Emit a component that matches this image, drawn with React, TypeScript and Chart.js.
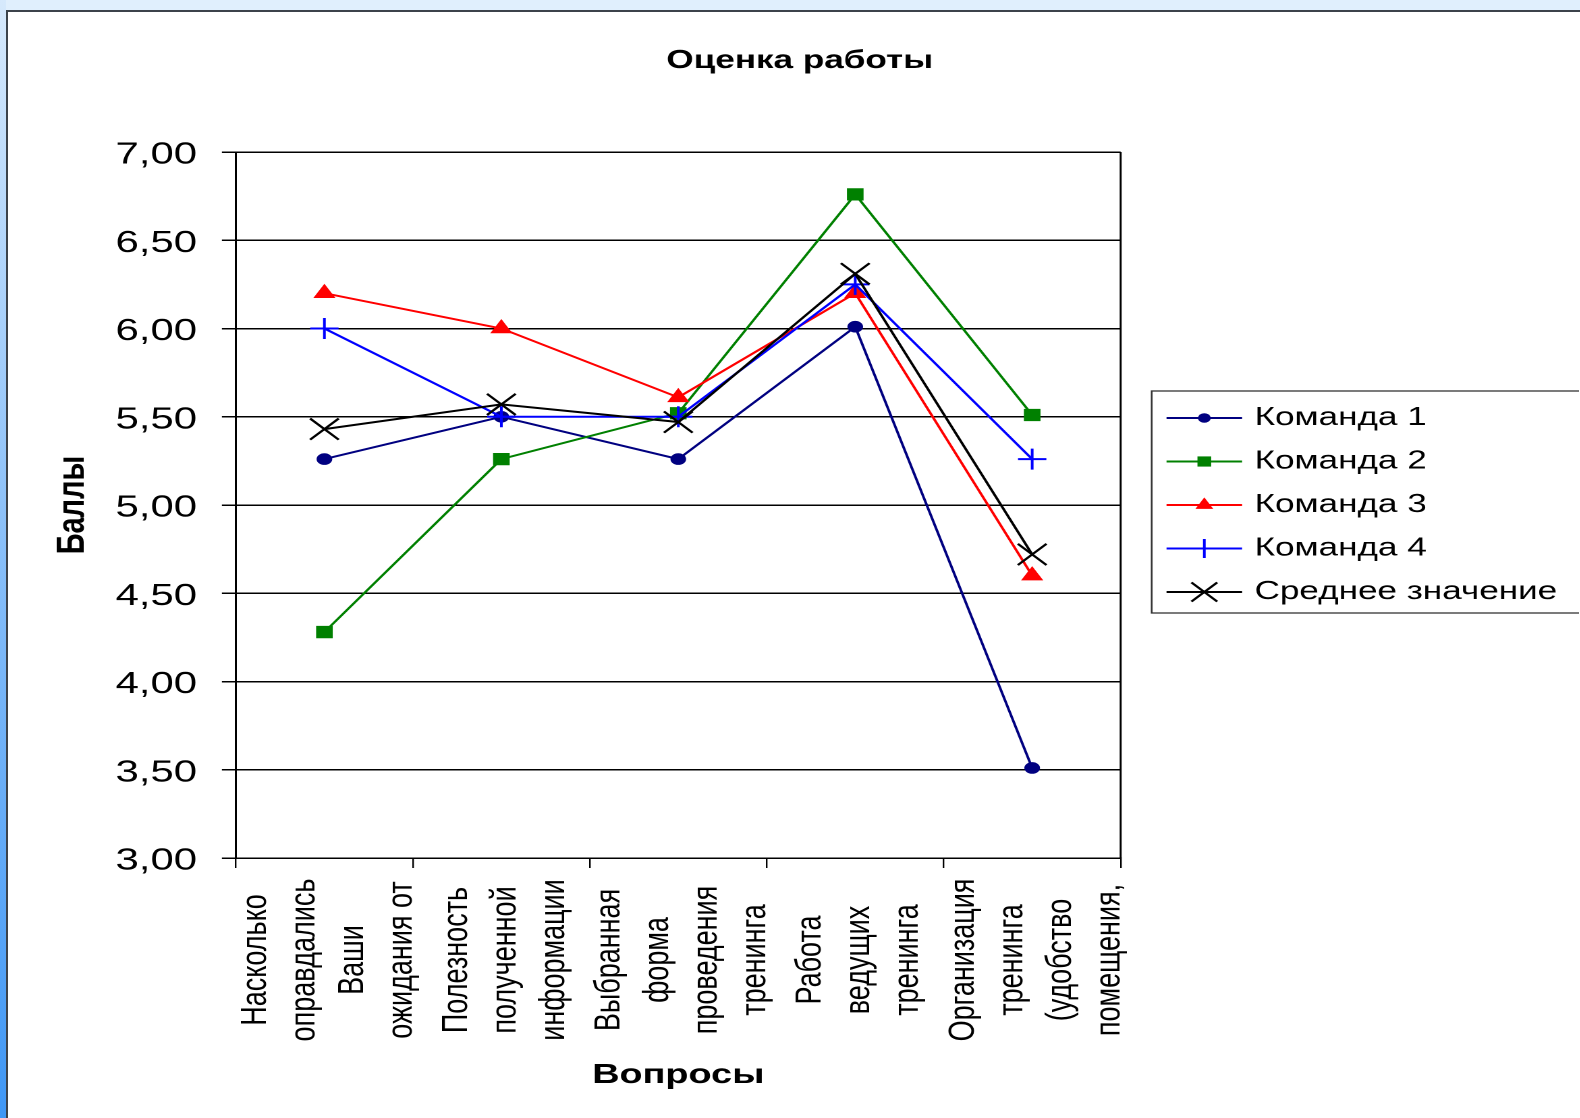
import React, { useEffect, useRef } from "react";
import { Chart, registerables } from "chart.js";

Chart.register(...registerables);

// ---------- data ----------
const categoryLines: string[][] = [
  ["Насколько", "оправдались", "Ваши", "ожидания от"],
  ["Полезность", "полученной", "информации"],
  ["Выбранная", "форма", "проведения", "тренинга"],
  ["Работа", "ведущих", "тренинга"],
  ["Организация", "тренинга", "(удобство", "помещения,"],
];
const categories = categoryLines.map((l) => l.join(" "));

const team1 = [5.26, 5.5, 5.26, 6.01, 3.51];
const team2 = [4.28, 5.26, 5.52, 6.76, 5.51];
const team3 = [6.2, 6.0, 5.61, 6.2, 4.6];
const team4 = [6.0, 5.5, 5.5, 6.25, 5.26];
const average = [5.43, 5.57, 5.47, 6.31, 4.72];

const seriesNames = ["Команда 1", "Команда 2", "Команда 3", "Команда 4", "Среднее значение"];
const seriesData = [team1, team2, team3, team4, average];

const chartTitle = "Оценка работы";
const xTitle = "Вопросы";
const yTitle = "Баллы";
const yMin = 3;
const yMax = 7;
const yStep = 0.5;

// ---------- styles ----------
const seriesColors = ["#000080", "#008000", "#ff0000", "#0000ff", "#000000"];
const seriesMarkers = ["circle", "rect", "triangle", "cross", "crossRot"];
const seriesMarkerRadius = [5.3, 8, 8.5, 10.5, 15];

const FONT = '"Liberation Sans", Arial, Helvetica, sans-serif';
const K = 1.35; // horizontal stretch of the original picture
const W = 1170; // logical canvas width (W*K fits in 1580px)
const H = 1118;
const AREA_LEFT = 236 / K;
const AREA_RIGHT = 1121 / K;
const AREA_BOTTOM = 858;
const TITLE_CX = 800 / K;
const Y_TITLE_CX = 54;
const LEG_FONT = 26;
const LEG_PAD = 17.5;
const LEG_BOX = 68.7;

function drawMarker(ctx: CanvasRenderingContext2D, style: string, x: number, y: number, r: number, color: string) {
  ctx.save();
  ctx.fillStyle = color;
  ctx.strokeStyle = color;
  ctx.lineWidth = 2;
  ctx.beginPath();
  if (style === "circle") {
    ctx.arc(x, y, r, 0, Math.PI * 2);
    ctx.fill();
  } else if (style === "rect") {
    const s = r * Math.SQRT1_2;
    ctx.rect(x - s, y - s, 2 * s, 2 * s);
    ctx.fill();
  } else if (style === "triangle") {
    const a = (2 * Math.PI) / 3;
    ctx.moveTo(x, y - r);
    ctx.lineTo(x + Math.sin(a) * r, y - Math.cos(a) * r);
    ctx.lineTo(x + Math.sin(2 * a) * r, y - Math.cos(2 * a) * r);
    ctx.closePath();
    ctx.fill();
  } else if (style === "cross") {
    ctx.moveTo(x, y - r);
    ctx.lineTo(x, y + r);
    ctx.moveTo(x - r, y);
    ctx.lineTo(x + r, y);
    ctx.stroke();
  } else {
    const o = r * Math.SQRT1_2;
    ctx.moveTo(x - o, y - o);
    ctx.lineTo(x + o, y + o);
    ctx.moveTo(x + o, y - o);
    ctx.lineTo(x - o, y + o);
    ctx.stroke();
  }
  ctx.restore();
}

const decorPlugin = {
  id: "decor",
  afterDraw(chart: any) {
    const ctx: CanvasRenderingContext2D = chart.ctx;
    const area = chart.chartArea;
    // right border of plot area
    ctx.save();
    ctx.strokeStyle = "#000";
    ctx.lineWidth = 1.5;
    ctx.beginPath();
    ctx.moveTo(area.right, area.top);
    ctx.lineTo(area.right, area.bottom);
    ctx.stroke();
    ctx.restore();

    // category labels (multi-line, rotated, centered)
    const xs = chart.scales.x;
    ctx.save();
    ctx.font = `27px ${FONT}`;
    ctx.fillStyle = "#000";
    ctx.textAlign = "center";
    ctx.textBaseline = "middle";
    const cy = xs.top + 102;
    categoryLines.forEach((lines, i) => {
      const cx = xs.getPixelForTick(i) + 3;
      lines.forEach((line, j) => {
        const x = cx + (j - (lines.length - 1) / 2) * 36;
        ctx.save();
        ctx.translate(x, cy);
        ctx.rotate(-Math.PI / 2);
        ctx.fillText(line, 0, 0);
        ctx.restore();
      });
    });
    ctx.restore();

    // legend samples and border
    const legend = chart.legend;
    if (legend && legend.legendHitBoxes && legend.legendHitBoxes.length) {
      const hbs = legend.legendHitBoxes;
      hbs.forEach((hb: any, i: number) => {
        const y = hb.top + LEG_FONT / 2;
        const x0 = hb.left + 16.5;
        ctx.save();
        ctx.strokeStyle = seriesColors[i];
        ctx.lineWidth = 2;
        ctx.beginPath();
        ctx.moveTo(x0, y);
        ctx.lineTo(x0 + 56, y);
        ctx.stroke();
        ctx.restore();
        drawMarker(ctx, seriesMarkers[i], x0 + 28, y, seriesMarkerRadius[i] * 0.9, seriesColors[i]);
      });
      const top = hbs[0].top + LEG_FONT / 2 - 27;
      const bottom = hbs[hbs.length - 1].top + LEG_FONT / 2 + 21;
      const left = legend.left + 23;
      ctx.save();
      ctx.strokeStyle = "#333";
      ctx.lineWidth = 1.3;
      ctx.strokeRect(left, top, chart.width + 10 - left, bottom - top);
      ctx.restore();
    }
  },
};

export default function App() {
  const ref = useRef<HTMLCanvasElement | null>(null);

  useEffect(() => {
    const canvas = ref.current;
    if (!canvas) return;

    const mctx = document.createElement("canvas").getContext("2d")!;
    mctx.font = `normal ${LEG_FONT}px ${FONT}`;
    const maxText = Math.max(...seriesNames.map((n) => mctx.measureText(n).width));
    let legendW = LEG_PAD + LEG_BOX + LEG_FONT / 2 + maxText + 10;
    const geom = { padL: 0, padR: 0, yTitlePad: 0 };
    const yTitleLH = 29 * 1.2;
    const computeGeom = () => {
      geom.padR = Math.max(0, W - AREA_RIGHT - legendW);
      geom.padL = Math.max(0, 2 * TITLE_CX - (W - geom.padR));
      geom.yTitlePad = Math.max(0, Y_TITLE_CX - yTitleLH / 2 - geom.padL);
    };
    computeGeom();
    const titleLH = 26 * 1.2;
    const titleTop = 45;

    const chart: any = new Chart(canvas, {
      type: "line",
      data: {
        labels: categories,
        datasets: seriesData.map((d, i) => ({
          label: seriesNames[i],
          data: d,
          borderColor: seriesColors[i],
          backgroundColor: seriesColors[i],
          borderWidth: 2,
          pointStyle: seriesMarkers[i] as any,
          pointRadius: seriesMarkerRadius[i],
          pointBackgroundColor: seriesColors[i],
          pointBorderColor: seriesColors[i],
          pointBorderWidth: i >= 3 ? 2 : 1,
          tension: 0,
          fill: false,
          order: 4 - i,
        })),
      },
      options: {
        responsive: false,
        animation: false,
        devicePixelRatio: 2,
        layout: { padding: { left: geom.padL, right: geom.padR, top: 0, bottom: 0 } },
        plugins: {
          title: {
            display: true,
            text: chartTitle,
            color: "#000",
            font: { family: FONT, size: 26, weight: "bold" },
            padding: { top: titleTop, bottom: 152 - titleTop - titleLH },
          },
          legend: {
            display: true,
            position: "right",
            fullSize: false,
            align: "center",
            maxWidth: 600,
            onClick: () => {},
            labels: {
              boxWidth: LEG_BOX,
              boxHeight: LEG_FONT,
              padding: LEG_PAD,
              color: "#000",
              font: { family: FONT, size: LEG_FONT },
              generateLabels: (ch: any) =>
                ch.data.datasets.map((ds: any, i: number) => ({
                  text: ds.label,
                  datasetIndex: i,
                  fillStyle: "rgba(0,0,0,0)",
                  strokeStyle: "rgba(0,0,0,0)",
                  lineWidth: 0,
                  hidden: false,
                  fontColor: "#000",
                })),
            },
          },
          tooltip: { enabled: false },
        },
        scales: {
          x: {
            type: "category",
            offset: true,
            grid: {
              offset: true,
              drawOnChartArea: false,
              drawTicks: true,
              tickLength: 10,
              color: "#000",
              lineWidth: 1.2,
            },
            border: { display: true, color: "#000", width: 1.5 },
            ticks: { display: false },
            title: {
              display: true,
              text: xTitle,
              color: "#000",
              font: { family: FONT, size: 28, weight: "bold" },
              padding: { top: 0, bottom: 26 },
            },
            afterFit: (s: any) => {
              s.height = H - AREA_BOTTOM;
            },
          },
          y: {
            min: yMin,
            max: yMax,
            ticks: {
              stepSize: yStep,
              color: "#000",
              font: { family: FONT, size: 31 },
              padding: 18.4,
              labelOffset: 3,
              callback: (v: any) => Number(v).toFixed(2).replace(".", ","),
            },
            grid: { color: "#000", lineWidth: 1.5, drawTicks: true, tickLength: 10.4 },
            border: { display: true, color: "#000", width: 1.5 },
            title: {
              display: true,
              text: yTitle,
              color: "#000",
              font: { family: FONT, size: 29, weight: "bold" },
              padding: { top: geom.yTitlePad, bottom: 0 },
            },
            afterFit: (s: any) => {
              s.width = AREA_LEFT - geom.padL;
            },
          },
        },
      } as any,
      plugins: [decorPlugin],
    });

    // correct geometry so the plot area's right edge lands where it should
    for (let iter = 0; iter < 3; iter++) {
      const diff = chart.chartArea.right - AREA_RIGHT;
      if (Math.abs(diff) < 0.3) break;
      legendW -= diff;
      computeGeom();
      chart.options.layout.padding = { left: geom.padL, right: geom.padR, top: 0, bottom: 0 };
      chart.options.scales.y.title.padding = { top: geom.yTitlePad, bottom: 0 };
      chart.update();
    }

    return () => chart.destroy();
  }, []);

  return (
    <div
      style={{
        position: "fixed",
        left: 0,
        top: 0,
        width: 1580,
        height: 1118,
        overflow: "hidden",
        background: "#e0effd",
      }}
    >
      <div
        style={{
          position: "absolute",
          left: 0,
          top: 0,
          width: 6,
          height: 1118,
          background: "linear-gradient(#d6e9fc, #8ec2f9 45%, #3f97f5)",
        }}
      />
      <div
        style={{
          position: "absolute",
          left: 6,
          top: 10,
          width: 1572,
          height: 1106,
          background: "#ffffff",
          borderLeft: "2px solid #3c434b",
          borderTop: "2px solid #3c434b",
        }}
      />
      <canvas
        ref={ref}
        width={W}
        height={H}
        style={{ position: "absolute", left: 0, top: 0, width: `${Math.floor(W * K)}px`, height: `${H}px` }}
      />
    </div>
  );
}
